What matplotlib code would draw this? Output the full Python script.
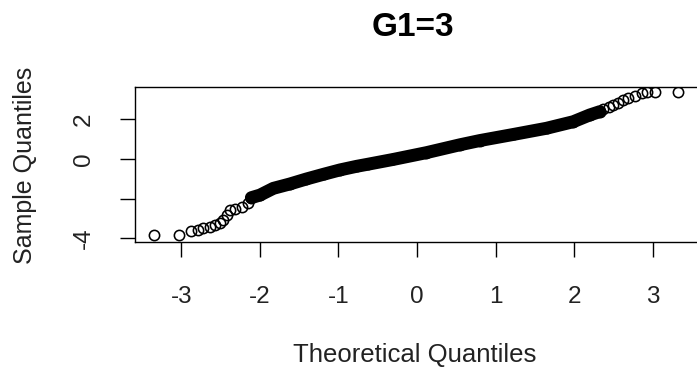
import matplotlib
matplotlib.use("Agg")
import matplotlib.pyplot as plt

# ---- data (theoretical vs sample quantiles) ----
tail_lo_x = [-3.35, -3.03, -2.88, -2.79, -2.72, -2.64, -2.57, -2.51, -2.47, -2.42, -2.38, -2.32, -2.23, -2.15]
tail_lo_y = [-3.85, -3.85, -3.63, -3.58, -3.50, -3.42, -3.33, -3.21, -3.08, -2.82, -2.57, -2.54, -2.41, -2.23]

band_x = [-2.11, -2.00, -1.83, -1.62, -1.41, -1.19, -0.98, -0.77, -0.62, -0.30,
          0.12, 0.55, 0.80, 1.23, 1.65, 1.99, 2.20, 2.33]
band_y = [-1.95, -1.82, -1.48, -1.26, -1.01, -0.77, -0.55, -0.37, -0.26, -0.02,
          0.32, 0.72, 0.93, 1.24, 1.55, 1.88, 2.22, 2.39]

tail_hi_x = [2.37, 2.44, 2.50, 2.56, 2.63, 2.69, 2.78, 2.86, 2.93, 3.03, 3.33]
tail_hi_y = [2.51, 2.64, 2.72, 2.81, 2.98, 3.06, 3.18, 3.31, 3.39, 3.39, 3.39]

x_ticks = [-3, -2, -1, 0, 1, 2, 3]
y_ticks = [-4, -2, 0, 2]
y_tick_labels = ["-4", "", "0", "2"]

title = "G1=3"
x_label = "Theoretical Quantiles"
y_label = "Sample Quantiles"

plt.rcParams['font.family'] = ['Liberation Sans', 'DejaVu Sans']

W, H = 697, 375
fig = plt.figure(figsize=(W / 100, H / 100), dpi=100)
fig.patch.set_facecolor('white')

left, right, top, bottom = 135, 699, 86.7, 242
ax = fig.add_axes([left / W, 1 - bottom / H, (right - left) / W, (bottom - top) / H])
ax.set_xlim(-3.592, 3.592)
ax.set_ylim(-4.186, 3.646)

# dense middle band
ax.plot(band_x, band_y, color='black', lw=9.3, solid_capstyle='round',
        solid_joinstyle='round', zorder=2)
all_x = tail_lo_x + band_x + tail_hi_x
all_y = tail_lo_y + band_y + tail_hi_y
ax.plot(all_x, all_y, 'o', mfc='none', mec='black', ms=7.4, mew=1.15, zorder=3)

for s in ['top', 'left', 'bottom', 'right']:
    ax.spines[s].set_linewidth(1.0)
    ax.spines[s].set_color('black')

ax.set_xticks(x_ticks)
ax.set_xticklabels([str(t) for t in x_ticks])
ax.set_yticks(y_ticks)
ax.set_yticklabels(y_tick_labels, rotation=90, va='center')
ax.tick_params(axis='both', direction='out', length=11, width=1.0, color='black',
               labelsize=17.5, labelcolor='#222222')
ax.tick_params(axis='x', pad=21)
ax.tick_params(axis='y', pad=18)

fig.text(413 / W, 1 - 28 / H, title, ha='center', va='center',
         fontsize=24, fontweight='bold', color='black')
fig.text(415 / W, 1 - 355 / H, x_label, ha='center', va='center',
         fontsize=18.5, color='#222222')
fig.text(25 / W, 1 - 165 / H, y_label, ha='center', va='center', rotation=90,
         fontsize=18, color='#222222')

fig.savefig('out.png', dpi=100, facecolor='white')
